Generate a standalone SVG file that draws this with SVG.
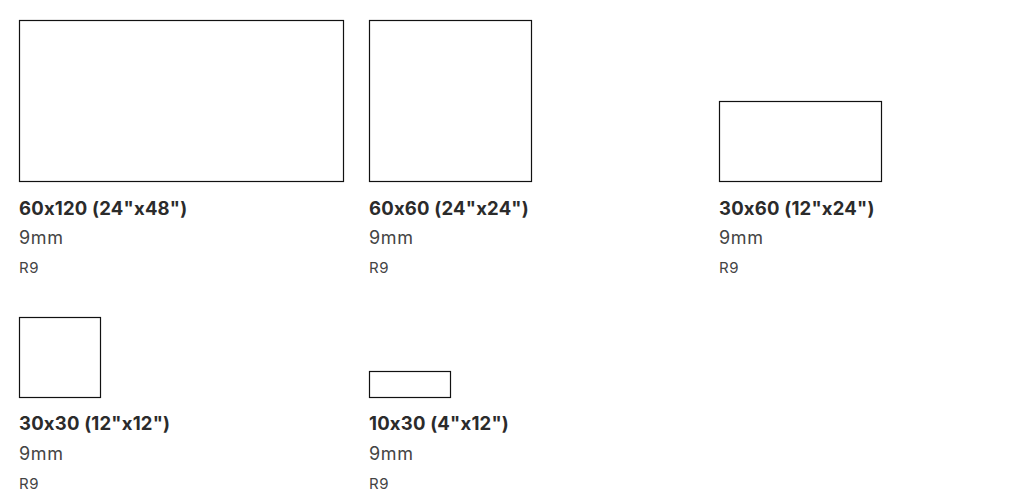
<svg xmlns="http://www.w3.org/2000/svg" width="1031" height="500" viewBox="0 0 1031 500">
<style>
.box{fill:#fff;stroke:#111;stroke-width:1.2}
text{font-family:Inter,"Noto Sans",sans-serif;font-feature-settings:"calt" 0;font-variant-ligatures:none}
.t{font-weight:700;font-size:18.5px;fill:#2b2b2b;letter-spacing:0.2px}
.s{font-size:18px;fill:#444;letter-spacing:0.6px}
.r{font-size:15px;fill:#444;letter-spacing:0.5px}
</style>
<rect width="1031" height="500" fill="#fff"/>
<g id="n1">
<rect class="box" x="19.5" y="20.5" width="324" height="161"/>
<text class="t" x="19" y="215">60x120 (24"x48")</text>
<text class="s" x="19" y="244">9mm</text>
<text class="r" x="19" y="273">R9</text>
</g>
<g id="n2">
<rect class="box" x="369.5" y="20.5" width="162" height="161"/>
<text class="t" x="369" y="215">60x60 (24"x24")</text>
<text class="s" x="369" y="244">9mm</text>
<text class="r" x="369" y="273">R9</text>
</g>
<g id="n3">
<rect class="box" x="719.5" y="101.5" width="162" height="80"/>
<text class="t" x="719" y="215">30x60 (12"x24")</text>
<text class="s" x="719" y="244">9mm</text>
<text class="r" x="719" y="273">R9</text>
</g>
<g id="n4">
<rect class="box" x="19.5" y="317.5" width="81" height="80"/>
<text class="t" x="19" y="430">30x30 (12"x12")</text>
<text class="s" x="19" y="460">9mm</text>
<text class="r" x="19" y="489">R9</text>
</g>
<g id="n5">
<rect class="box" x="369.5" y="371.5" width="81" height="26"/>
<text class="t" x="369" y="430">10x30 (4"x12")</text>
<text class="s" x="369" y="460">9mm</text>
<text class="r" x="369" y="489">R9</text>
</g>
<g id="connectors"></g>
</svg>
